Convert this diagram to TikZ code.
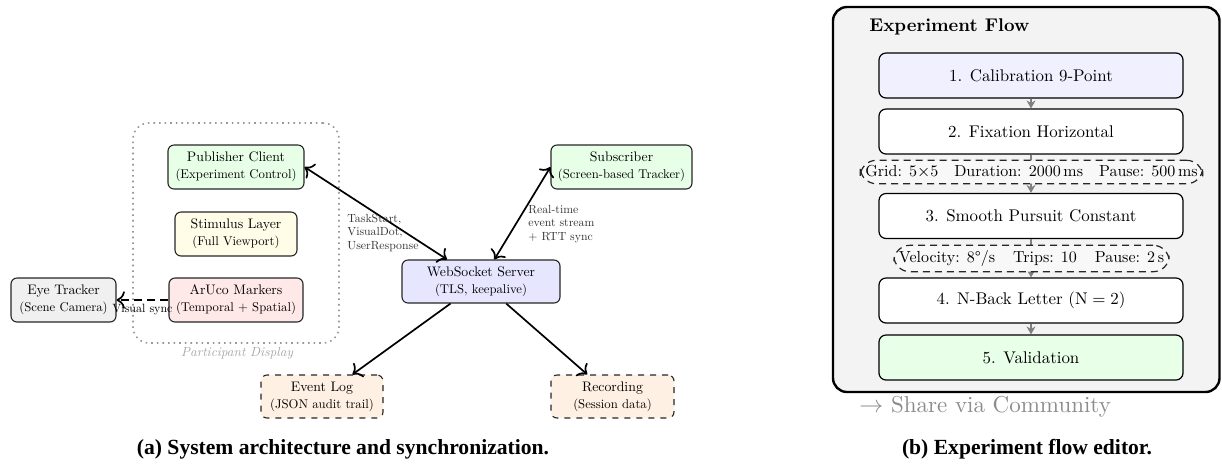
\documentclass[tikz,border=0pt]{standalone}
\usepackage{fontspec}
\setmainfont{lmroman10-regular.otf}[BoldFont=lmroman10-bold.otf, ItalicFont=lmroman10-italic.otf, BoldItalicFont=lmroman10-bolditalic.otf]
\newfontfamily\capfont{Liberation Serif}
\usetikzlibrary{arrows.meta}
\definecolor{cgreen}{RGB}{230,255,230}
\definecolor{cyellow}{RGB}{255,253,232}
\definecolor{cpink}{RGB}{255,232,232}
\definecolor{cgrey}{RGB}{240,240,240}
\definecolor{clav}{RGB}{230,230,255}
\definecolor{corange}{RGB}{255,240,228}
\definecolor{cflav}{RGB}{240,240,255}
\definecolor{cfgreen}{RGB}{232,255,232}
\definecolor{cpanel}{RGB}{243,243,243}
\definecolor{cparam}{RGB}{248,248,248}
\newcommand\nsub[1]{{\fontsize{6.35}{7}\selectfont #1}}
\begin{document}
\begin{tikzpicture}[x=0.5pt,y=-0.5pt,
  >={To[scale=1.2]},
  nb/.style={draw=black!85, line width=0.55pt, rounded corners=3pt, align=center, inner sep=1pt, minimum height=22pt, font=\fontsize{6.9}{8.5}\selectfont},
  flow/.style={draw=black, line width=0.6pt, rounded corners=3.5pt, minimum width=152pt, minimum height=22.5pt, font=\fontsize{8.45}{10}\selectfont, fill=white},
  param/.style={draw=black!85, line width=0.6pt, dash pattern=on 3.5pt off 2.5pt, rounded corners=8pt, fill=cparam, inner xsep=2.5pt, inner ysep=2.6pt, font=\fontsize{8}{10}\selectfont},
  conn/.style={<->, line width=0.85pt},
  one/.style={->, line width=0.85pt},
  fl/.style={-{Stealth[length=4pt,width=4.5pt]}, draw=black!50, line width=0.8pt},
  lbl/.style={font=\fontsize{5.9}{6.6}\selectfont, align=left, inner sep=0pt, text=black!80}
]
\useasboundingbox (0,0) rectangle (1222,463);

% ---------- left panel ----------
\node[draw=black!40, dotted, line width=0.8pt, rounded corners=8pt, minimum width=103pt, minimum height=110pt] (pd) at (236,233) {};
\node[font=\fontsize{6.6}{7.5}\selectfont\itshape, text=black!35] (pdl) at (237,353) {Participant Display};

\node[nb, fill=cgreen, minimum width=68pt] (pub) at (236,167) {Publisher Client\\\nsub{(Experiment Control)}};
\node[nb, fill=cyellow, minimum width=61pt] (stim) at (236,234) {Stimulus Layer\\\nsub{(Full Viewport)}};
\node[nb, fill=cpink, minimum width=67pt] (aru) at (236,300) {ArUco Markers\\\nsub{(Temporal + Spatial)}};
\node[nb, fill=cgrey, minimum width=52.5pt] (eye) at (63.5,300) {Eye Tracker\\\nsub{(Scene Camera)}};
\node[nb, fill=clav, minimum width=79pt, minimum height=21.5pt] (ws) at (481,281.5) {WebSocket Server\\\nsub{(TLS, keepalive)}};
\node[nb, fill=cgreen, minimum width=70.5pt] (sub) at (621.5,167) {Subscriber\\\nsub{(Screen-based Tracker)}};
\node[nb, fill=corange, dashed, minimum width=61pt, minimum height=21.5pt] (log) at (322,396.5) {Event Log\\\nsub{(JSON audit trail)}};
\node[nb, fill=corange, dashed, minimum width=61.5pt, minimum height=21.5pt] (rec) at (612.5,396.5) {Recording\\\nsub{(Session data)}};

\draw[conn] (pub.east) -- (ws);
\draw[conn] (sub.west) -- (ws);
\draw[one] (ws) -- (log);
\draw[one] (ws) -- (rec);
\draw[one, dash pattern=on 4pt off 2.5pt] (aru.west) -- (eye.east)
  node[midway, below, inner sep=1.5pt, font=\fontsize{6}{7}\selectfont] (vs) {Visual sync};

\node[lbl, anchor=north west] (l1) at (347,214) {TaskStart,\\VisualDot,\\UserResponse};
\node[lbl, anchor=north west] (l2) at (528,205) {Real-time\\event stream\\+ RTT sync};

% ---------- right panel ----------
\draw[line width=1.2pt, fill=cpanel, rounded corners=7pt] (833,7) rectangle (1219.5,392);
\node[anchor=west, inner sep=0pt, font=\fontsize{9.2}{11}\selectfont\bfseries] (title) at (869,27) {Experiment Flow};

\node[flow, fill=cflav] (f1) at (1031,75.5) {1. Calibration 9-Point};
\node[flow] (f2) at (1031,131.5) {2. Fixation Horizontal};
\node[flow] (f3) at (1031,216) {3. Smooth Pursuit Constant};
\node[flow] (f4) at (1031,300.5) {4. N-Back Letter (N${}={}$2)};
\node[flow, fill=cfgreen] (f5) at (1031,357.5) {5. Validation};

\draw[fl] (f1) -- (f2);
\draw[fl] (f2) -- (f3);
\draw[fl] (f3) -- (f4);
\draw[fl] (f4) -- (f5);

\node[param] (p1) at (1031.5,172) {Grid: 5$\times$5\hspace{8pt}Duration: 2000\,ms\hspace{8pt}Pause: 500\,ms};
\node[param] (p2) at (1031.5,258.5) {Velocity: 8\textdegree/s\hspace{9pt}Trips: 10\hspace{9pt}Pause: 2\,s};

\node[anchor=west, inner sep=0pt, text=black!45, font=\fontsize{11.5}{14}\selectfont] (share) at (859,407) {$\rightarrow$ Share via Community};

% ---------- captions ----------
\node[font=\capfont\bfseries\fontsize{10.8}{13}\selectfont] (capa) at (343,449) {(a) System architecture and synchronization.};
\node[font=\capfont\bfseries\fontsize{10.8}{13}\selectfont] (capb) at (1027,449) {(b) Experiment flow editor.};
\end{tikzpicture}
\end{document}
